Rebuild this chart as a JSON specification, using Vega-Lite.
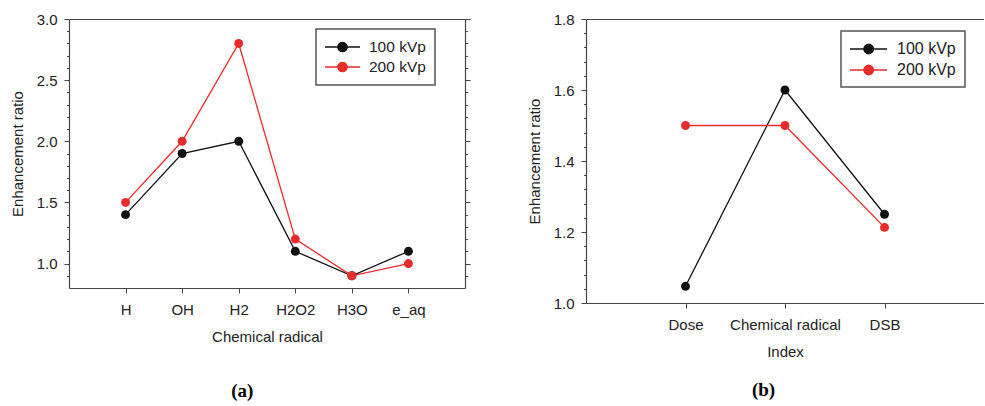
{
  "$schema": "https://vega.github.io/schema/vega-lite/v6.json",
  "background": "white",
  "padding": {"left": 10, "top": 12, "right": 0, "bottom": 0},
  "spacing": 56,
  "resolve": {"scale": {"color": "independent"}, "legend": {"color": "independent"}},
  "config": {
    "font": "Liberation Sans",
    "axis": {"labelFont": "Liberation Sans", "titleFont": "Liberation Sans", "labelFontSize": 15, "titleFontSize": 15, "titleFontWeight": "normal", "labelColor": "#222", "titleColor": "#222", "domainColor": "#444", "tickColor": "#444", "domainWidth": 1.2, "tickWidth": 1, "grid": false},
    "legend": {"labelFont": "Liberation Sans", "labelFontSize": 15.5, "labelColor": "#222", "strokeColor": "#555", "strokeWidth": 1.5, "padding": 9, "symbolType": "M-1.125,0H3.25M0.47,0A0.59,0.59 0 1,1 1.65,0A0.59,0.59 0 1,1 0.47,0Z", "symbolSize": 256, "symbolStrokeWidth": 1.3, "rowPadding": 2, "labelOffset": 26, "fillColor": "white"},
    "view": {"stroke": null},
    "title": {"font": "Liberation Serif", "fontSize": 19, "fontWeight": "bold", "color": "#000"}
  },
  "hconcat": [
    {
      "width": 396,
      "height": 269,
      "title": {"text": "(a)", "orient": "bottom", "frame": "bounds", "anchor": "middle", "offset": 38, "dx": 2},
      "data": {"values": [
        {"radical": "H", "series": "100 kVp", "ratio": 1.4},
        {"radical": "OH", "series": "100 kVp", "ratio": 1.9},
        {"radical": "H2", "series": "100 kVp", "ratio": 2.0},
        {"radical": "H2O2", "series": "100 kVp", "ratio": 1.1},
        {"radical": "H3O", "series": "100 kVp", "ratio": 0.9},
        {"radical": "e_aq", "series": "100 kVp", "ratio": 1.1},
        {"radical": "H", "series": "200 kVp", "ratio": 1.5},
        {"radical": "OH", "series": "200 kVp", "ratio": 2.0},
        {"radical": "H2", "series": "200 kVp", "ratio": 2.8},
        {"radical": "H2O2", "series": "200 kVp", "ratio": 1.2},
        {"radical": "H3O", "series": "200 kVp", "ratio": 0.9},
        {"radical": "e_aq", "series": "200 kVp", "ratio": 1.0}
      ]},
      "encoding": {
        "color": {"field": "series", "type": "nominal", "scale": {"domain": ["100 kVp", "200 kVp"], "range": ["#111111", "#e82c2c"]}, "legend": {"title": null, "orient": "none", "legendX": 247, "legendY": 10}}
      },
      "layer": [
        {
          "mark": {"type": "line", "strokeWidth": 1.3},
          "encoding": {
            "x": {"field": "radical", "type": "nominal", "sort": ["H", "OH", "H2", "H2O2", "H3O", "e_aq"], "scale": {"type": "point", "padding": 1}, "axis": {"orient": "bottom", "labelAngle": 0, "tickSize": 5, "labelPadding": 9, "title": "Chemical radical", "titlePadding": 12}},
            "y": {"field": "ratio", "type": "quantitative", "scale": {"domain": [0.8, 3.0], "nice": false, "zero": false}, "axis": {"orient": "left", "title": "Enhancement ratio", "values": [0.9, 1.0, 1.1, 1.2, 1.3, 1.4, 1.5, 1.6, 1.7, 1.8, 1.9, 2.0, 2.1, 2.2, 2.3, 2.4, 2.5, 2.6, 2.7, 2.8, 2.9, 3.0], "labelExpr": "abs(datum.value*2 - round(datum.value*2)) < 0.001 ? format(datum.value, '.1f') : ''", "tickSize": {"condition": {"test": "abs(datum.value*2 - round(datum.value*2)) < 0.001", "value": 5}, "value": 2.5}, "labelPadding": 7, "titlePadding": 11}}
          }
        },
        {
          "mark": {"type": "point", "filled": true, "size": 80, "opacity": 1},
          "encoding": {
            "x": {"field": "radical", "type": "nominal", "sort": ["H", "OH", "H2", "H2O2", "H3O", "e_aq"], "axis": {"orient": "top", "labels": false, "ticks": false, "title": null}},
            "y": {"field": "ratio", "type": "quantitative", "axis": {"orient": "right", "labels": false, "title": null, "values": [0.9, 1.0, 1.1, 1.2, 1.3, 1.4, 1.5, 1.6, 1.7, 1.8, 1.9, 2.0, 2.1, 2.2, 2.3, 2.4, 2.5, 2.6, 2.7, 2.8, 2.9, 3.0], "tickSize": {"condition": {"test": "abs(datum.value*2 - round(datum.value*2)) < 0.001", "value": 5}, "value": 2.5}}}
          }
        }
      ],
      "resolve": {"axis": {"x": "independent", "y": "independent"}}
    },
    {
      "width": 398,
      "height": 284,
      "title": {"text": "(b)", "orient": "bottom", "frame": "bounds", "anchor": "middle", "offset": 22, "dx": 8},
      "data": {"values": [
        {"index": "Dose", "series": "100 kVp", "ratio": 1.047},
        {"index": "Chemical radical", "series": "100 kVp", "ratio": 1.6},
        {"index": "DSB", "series": "100 kVp", "ratio": 1.25},
        {"index": "Dose", "series": "200 kVp", "ratio": 1.5},
        {"index": "Chemical radical", "series": "200 kVp", "ratio": 1.5},
        {"index": "DSB", "series": "200 kVp", "ratio": 1.213}
      ]},
      "encoding": {
        "x": {"field": "index", "type": "nominal", "sort": ["Dose", "Chemical radical", "DSB"], "scale": {"type": "point", "padding": 1}, "axis": {"orient": "bottom", "labelAngle": 0, "tickSize": 5, "labelPadding": 9, "title": "Index", "titlePadding": 12}},
        "y": {"field": "ratio", "type": "quantitative", "scale": {"domain": [1.0, 1.8], "nice": false, "zero": false}, "axis": {"orient": "left", "title": "Enhancement ratio", "values": [1.0, 1.04, 1.08, 1.12, 1.16, 1.2, 1.24, 1.28, 1.32, 1.36, 1.4, 1.44, 1.48, 1.52, 1.56, 1.6, 1.64, 1.68, 1.72, 1.76, 1.8], "labelExpr": "abs(datum.value*5 - round(datum.value*5)) < 0.001 ? format(datum.value, '.1f') : ''", "tickSize": {"condition": {"test": "abs(datum.value*5 - round(datum.value*5)) < 0.001", "value": 5}, "value": 2.5}, "labelPadding": 7, "titlePadding": 11}},
        "color": {"field": "series", "type": "nominal", "scale": {"domain": ["100 kVp", "200 kVp"], "range": ["#111111", "#e82c2c"]}, "legend": {"title": null, "orient": "none", "legendX": 255, "legendY": 12, "rowPadding": 4, "labelFontSize": 16, "labelOffset": 29, "symbolType": "M-1.125,0H3.5M0.61,0A0.6,0.6 0 1,1 1.81,0A0.6,0.6 0 1,1 0.61,0Z"}}
      },
      "layer": [
        {
          "mark": {"type": "line", "strokeWidth": 1.3}
        },
        {
          "mark": {"type": "point", "filled": true, "size": 80, "opacity": 1},
          "encoding": {
            "x": {"field": "index", "type": "nominal", "sort": ["Dose", "Chemical radical", "DSB"], "axis": {"orient": "top", "labels": false, "ticks": false, "title": null}}
          }
        }
      ],
      "resolve": {"axis": {"x": "independent"}}
    }
  ]
}
